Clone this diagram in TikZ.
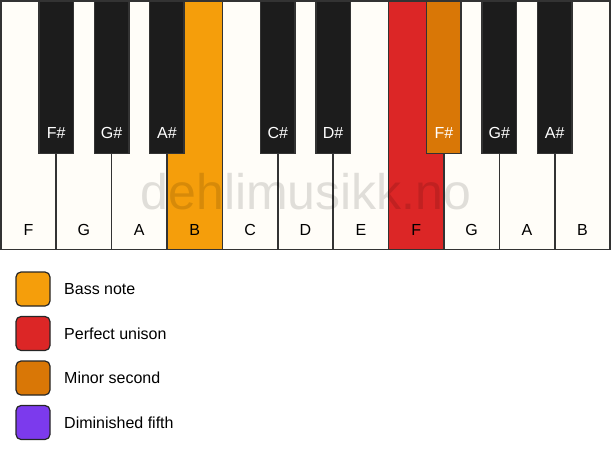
\documentclass[tikz,border=0pt]{standalone}
\usepackage{fontspec}
\setmainfont{Liberation Sans}
\definecolor{keywhite}{HTML}{FFFDF8}
\definecolor{keyblack}{HTML}{1C1C1C}
\definecolor{keyline}{HTML}{333333}
\definecolor{bassc}{HTML}{F59E0B}
\definecolor{unisonc}{HTML}{DC2626}
\definecolor{minorc}{HTML}{D97706}
\definecolor{dimc}{HTML}{7C3AED}
\begin{document}
\begin{tikzpicture}[x=1pt,y=-1pt,
  whitekey/.style={draw=keyline, line width=1.5pt, fill=keywhite, minimum width=55.4pt, minimum height=248.75pt, anchor=north west, inner sep=0pt, outer sep=0pt},
  blackkey/.style={draw=keyline, line width=1.5pt, fill=keyblack, minimum width=34.5pt, minimum height=152.5pt, anchor=north, inner sep=0pt, outer sep=0pt},
  wlabel/.style={font=\fontsize{16}{18}\selectfont, text=black, anchor=center},
  blabel/.style={font=\fontsize{16}{18}\selectfont, text=white, anchor=center},
  legbox/.style={draw=black!85, line width=1.2pt, rounded corners=5pt, minimum width=34pt, minimum height=34pt, inner sep=0pt},
  legtext/.style={font=\fontsize{16}{18}\selectfont, anchor=west, inner sep=0pt}
]
\useasboundingbox (0,0) rectangle (611,461);
% white keys
\foreach \i/\n/\c in {1/F/keywhite,2/G/keywhite,3/A/keywhite,4/B/bassc,5/C/keywhite,6/D/keywhite,7/E/keywhite,8/F/unisonc,9/G/keywhite,10/A/keywhite,11/B/keywhite}{
  \node[whitekey, fill=\c] (w\i) at ({0.75+(\i-1)*55.4},0.75) {};
  \node[wlabel] (wl\i) at ({0.75+(\i-0.5)*55.4},230) {\n};
}
% watermark
\node[font=\fontsize{50}{56}\selectfont, text=black, text opacity=0.12, anchor=base, inner sep=0pt] (wm) at (306,209) {dehlimusikk.no};
% black keys
\foreach \i/\n/\c in {1/F\#/keyblack,2/G\#/keyblack,3/A\#/keyblack,5/C\#/keyblack,6/D\#/keyblack,8/F\#/minorc,9/G\#/keyblack,10/A\#/keyblack}{
  \node[blackkey, fill=\c] (b\i) at ({0.75+\i*55.4},0.75) {};
  \node[blabel] (bl\i) at ({0.75+\i*55.4},133) {\n};
}
% legend
\foreach \k/\y/\c/\t in {1/289/bassc/Bass note,2/333.5/unisonc/Perfect unison,3/378/minorc/Minor second,4/422.5/dimc/Diminished fifth}{
  \node[legbox, fill=\c] (lb\k) at (33,\y) {};
  \node[legtext] (lt\k) at (64,\y) {\t};
}
\end{tikzpicture}
\end{document}
